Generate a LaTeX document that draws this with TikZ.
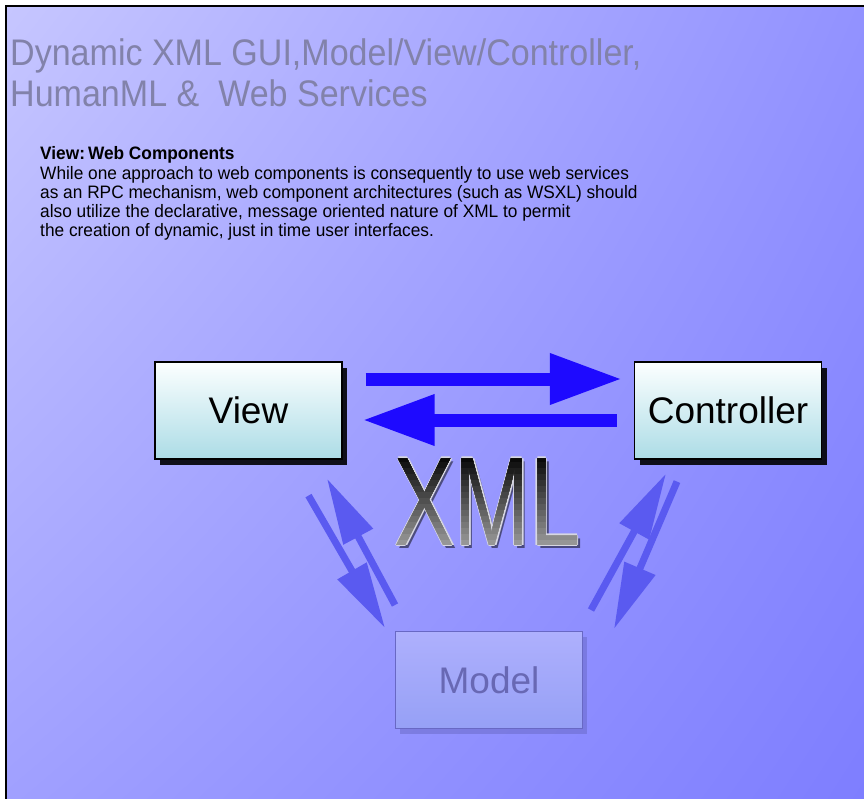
\documentclass[tikz,border=0pt]{standalone}
\usepackage{fontspec}
\setmainfont{Liberation Sans}
\newfontfamily\titlefont[FakeStretch=0.92]{Liberation Sans}
\newfontfamily\infofont[FakeStretch=0.96]{Liberation Sans}
\newfontfamily\xmlfont[FakeStretch=0.715]{Liberation Sans}
\usetikzlibrary{arrows.meta,shadows,shadings}

\definecolor{bgtl}{RGB}{198,198,255}
\definecolor{bgtr}{RGB}{146,146,255}
\definecolor{bgbl}{RGB}{160,160,255}
\definecolor{bgbr}{RGB}{126,126,255}
\definecolor{titlegray}{RGB}{130,130,170}
\definecolor{boxtop}{RGB}{252,255,255}
\definecolor{boxbot}{RGB}{172,220,230}
\definecolor{modeltop}{RGB}{174,176,253}
\definecolor{modelbot}{RGB}{150,160,246}
\definecolor{modeledge}{RGB}{104,104,196}
\definecolor{modeltext}{RGB}{104,104,180}
\definecolor{msgblue}{RGB}{30,10,255}
\definecolor{fadeblue}{RGB}{90,90,240}
\definecolor{xmltop}{RGB}{10,10,10}
\definecolor{xmlbot}{RGB}{150,150,150}
\definecolor{xmledge}{RGB}{215,215,225}

\begin{document}
\begin{tikzpicture}[x=1pt,y=-1pt,
    mvcbox/.style={draw=black, line width=1.2pt, minimum width=187pt,
        minimum height=97pt, inner sep=0pt, top color=boxtop, bottom color=boxbot,
        drop shadow={shadow xshift=5pt, shadow yshift=-6pt, opacity=.9, fill=black},
        font=\fontsize{37}{40}\selectfont},
    modelbox/.style={draw=modeledge, line width=1pt, minimum width=187pt,
        minimum height=97pt, inner sep=0pt, top color=modeltop, bottom color=modelbot,
        drop shadow={shadow xshift=4pt, shadow yshift=-5pt, opacity=.5, fill=modeledge},
        text=modeltext, font=\fontsize{37}{40}\selectfont},
    msgarrow/.style={draw=msgblue, line width=13pt, -{Triangle[length=72pt,width=48pt]}},
    fadearrow/.style={draw=fadeblue, line width=7pt,
        -{Triangle[length=66pt,width=32pt]}},
    xmltext/.style={inner sep=0pt, anchor=base,
        font=\xmlfont\fontsize{126}{126}\selectfont}]

\useasboundingbox (0,0) rectangle (864,799);
\fill[white] (0,0) rectangle (864,799);
\shade[upper left=bgtl, upper right=bgtr, lower left=bgbl, lower right=bgbr]
    (7,7) rectangle (864,799);
\draw[line width=2.5pt] (6,799) -- (6,6) -- (864,6);

\node[anchor=base west, inner sep=0pt, align=left, text=titlegray,
    font=\titlefont\fontsize{37}{41}\selectfont] (title) at (10,107)
    {Dynamic XML GUI,Model/View/Controller,\\HumanML \&\ \ Web Services};

\node[anchor=base west, inner sep=0pt, align=left,
    font=\infofont\fontsize{18}{19.25}\selectfont] (info) at (40,237)
    {\textbf{View:\,Web Components}\\
     While one approach to web components is consequently to use web services\\
     as an RPC mechanism, web component architectures (such as WSXL) should\\
     also utilize the declarative, message oriented nature of XML to permit\\
     the creation of dynamic, just in time user interfaces.};

\node[mvcbox] (view) at (248.5,410.5) {View};
\node[mvcbox] (ctrl) at (728,410.5) {Controller};
\node[modelbox] (model) at (489,680) {Model};

\draw[msgarrow, shorten <=23pt, shorten >=12pt]
    ([shift={(0,-31.5)}]view.east) -- ([shift={(0,-31.5)}]ctrl.west);
\draw[msgarrow, shorten <=17pt, shorten >=20pt]
    ([shift={(0,9.5)}]ctrl.west) -- ([shift={(0,9.5)}]view.east);

\draw[fadearrow] ([shift={(60,36)}]view.south) -- ([shift={(-104,-3)}]model.north);
\draw[fadearrow] ([shift={(-94,-26)}]model.north) -- ([shift={(78.5,19)}]view.south);
\draw[fadearrow] ([shift={(102,-21)}]model.north) -- ([shift={(-62,14)}]ctrl.south);
\draw[fadearrow] ([shift={(-51,22)}]ctrl.south) -- ([shift={(125,-2)}]model.north);

\coordinate (xmlpos) at (487.5,545);
\node[xmltext, text=black, opacity=.5] at ([shift={(3,3)}]xmlpos) {XML};
\foreach \dx/\dy in {-1.3/0, 1.3/0, 0/-1.3, 0/1.3}
    \node[xmltext, text=xmledge] at ([shift={(\dx,\dy)}]xmlpos) {XML};
\node[xmltext, text=xmlbot] (xml) at (xmlpos) {XML};
\foreach \i in {14,13,...,0} {
    \pgfmathsetmacro\mix{100-\i*100/14}
    \begin{scope}
        \clip (370,430) rectangle (610,{455+6*\i+6});
        \node[xmltext, text=xmltop!\mix!xmlbot] at (xmlpos) {XML};
    \end{scope}
}
\end{tikzpicture}
\end{document}
